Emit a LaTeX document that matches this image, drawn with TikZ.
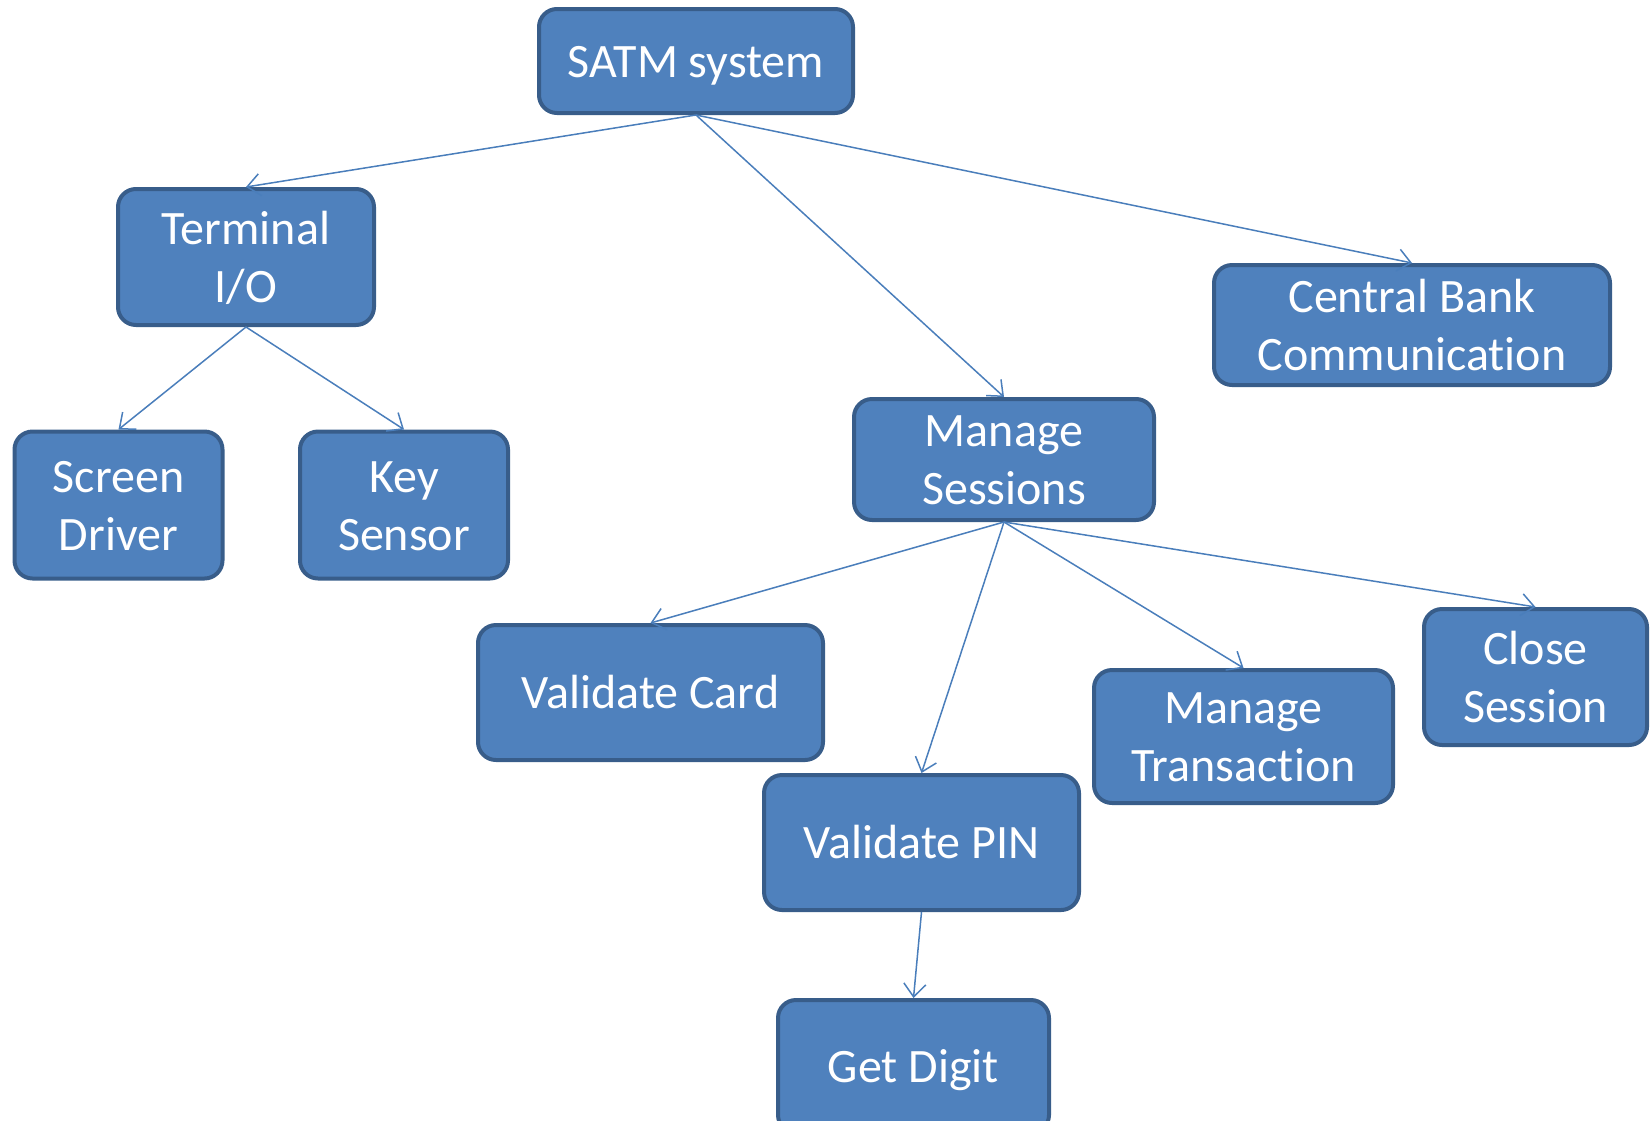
\documentclass[tikz,border=0pt]{standalone}
\usepackage{fontspec}
\setmainfont{Carlito}[Ligatures=NoCommon]
\usetikzlibrary{arrows.meta}
\definecolor{boxfill}{HTML}{4F81BD}
\definecolor{boxline}{HTML}{385D8A}
\definecolor{linkline}{HTML}{4A7EBB}
% invisible strut giving every text line the same ascent and descent
\newcommand{\lnstrut}{\rule[-0.26em]{0pt}{1.2em}}
\begin{document}
\begin{tikzpicture}[x=1pt,y=-1pt,
  box/.style={draw=boxline, fill=boxfill, line width=4pt, rounded corners=18pt,
    text=white, align=center, inner sep=0pt,
    font=\fontsize{48}{58}\selectfont},
  link/.style={draw=linkline, line width=1.5pt,
    -{Straight Barb[length=13pt,width=22pt]}}]
\clip (0,0) rectangle (1651,1120);
% module boxes
\node[box, minimum width=314pt, minimum height=104pt] (satm)  at (696,61)      {SATM system\lnstrut};
\node[box, minimum width=256pt, minimum height=136pt] (term)  at (246,257)     {Terminal\lnstrut\\I/O\lnstrut};
\node[box, minimum width=208pt, minimum height=147pt] (scr)   at (118.5,505)   {Screen\lnstrut\\Driver\lnstrut};
\node[box, minimum width=208pt, minimum height=147pt] (key)   at (404,505)     {Key\lnstrut\\Sensor\lnstrut};
\node[box, minimum width=396pt, minimum height=120pt] (bank)  at (1412,325)    {Central Bank\lnstrut\\Communication\lnstrut};
\node[box, minimum width=300pt, minimum height=121pt] (sess)  at (1004,459.5)  {Manage\lnstrut\\Sessions\lnstrut};
\node[box, minimum width=345pt, minimum height=135pt] (card)  at (650.5,692.5) {Validate Card\lnstrut};
\node[box, minimum width=315pt, minimum height=135pt] (pin)   at (921.5,842.5) {Validate PIN\lnstrut};
\node[box, minimum width=299pt, minimum height=133pt] (trans) at (1243.5,736.5){Manage\lnstrut\\Transaction\lnstrut};
\node[box, minimum width=223pt, minimum height=136pt] (close) at (1535.5,677)  {Close\lnstrut\\Session\lnstrut};
\node[box, minimum width=271pt, minimum height=133pt] (digit) at (913.5,1066.5){Get Digit\lnstrut};
% decomposition links
\draw[link] (satm.south) -- (term.north);
\draw[link] (satm.south) -- (sess.north);
\draw[link] (satm.south) -- (bank.north);
\draw[link] (term.south) -- (scr.north);
\draw[link] (term.south) -- (key.north);
\draw[link] (sess.south) -- (card.north);
\draw[link] (sess.south) -- (pin.north);
\draw[link] (sess.south) -- (trans.north);
\draw[link] (sess.south) -- (close.north);
\draw[link] (pin.south) -- (digit.north);
\end{tikzpicture}
\end{document}
